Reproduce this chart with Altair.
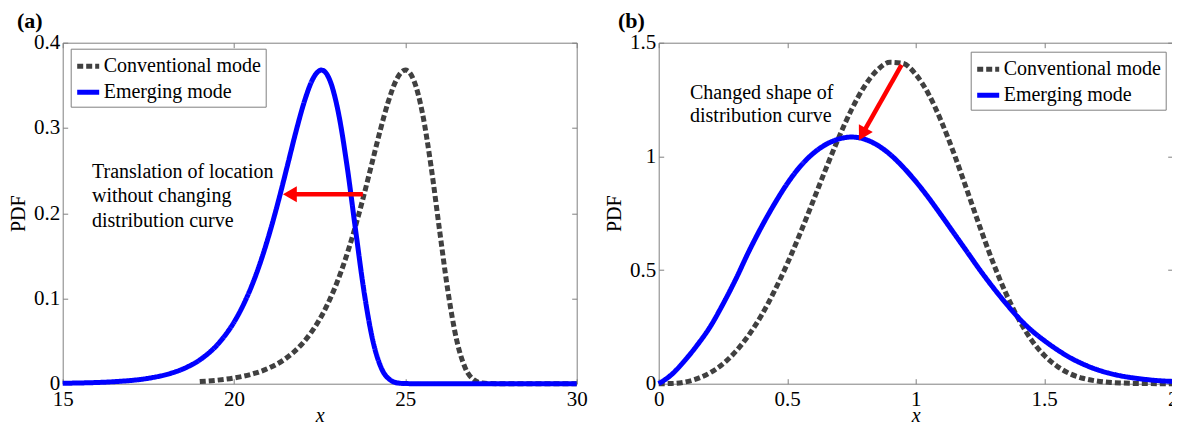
import altair as alt
import pandas as pd

FONT = "Liberation Serif"
W, H = 514, 341

MODES = ["Conventional mode", "Emerging mode"]
MODE_COLORS = ["#404040", "#0000ff"]
MODE_DASHES = [[6, 3], [1, 0]]

# ---------------- panel (a) ----------------
A_CONV_X = [19, 19.5, 20, 20.5, 21, 21.5, 22, 22.5, 22.75, 23, 23.25, 23.5, 23.75, 24, 24.25, 24.5,
            24.75, 24.875, 25, 25.125, 25.25, 25.5, 25.75, 26, 26.25, 26.5, 26.75, 27, 27.25, 27.5, 28, 30]
A_CONV_Y = [0.0025, 0.0041, 0.0067, 0.0110, 0.0180, 0.0293, 0.0474, 0.0756, 0.0949, 0.1182, 0.1461,
            0.1786, 0.2151, 0.2546, 0.2946, 0.3307, 0.3575, 0.3651, 0.3679, 0.3649, 0.3555, 0.3170,
            0.2549, 0.1794, 0.1064, 0.0507, 0.0182, 0.0046, 0.0007, 0.0001, 0, 0]
A_EMER_X = [15, 16.55, 17.55, 18.05, 18.55, 19.05, 19.55, 20.05, 20.3, 20.55, 20.8, 21.05, 21.3, 21.55,
            21.8, 22.05, 22.3, 22.425, 22.55, 22.675, 22.8, 23.05, 23.3, 23.55, 23.8, 24.05, 24.3, 24.55,
            24.8, 25.05, 26, 30]
A_EMER_Y = [0.0005, 0.0025, 0.0067, 0.0110, 0.0180, 0.0293, 0.0474, 0.0756, 0.0949, 0.1182, 0.1461,
            0.1786, 0.2151, 0.2546, 0.2946, 0.3307, 0.3575, 0.3651, 0.3679, 0.3649, 0.3555, 0.3170,
            0.2549, 0.1794, 0.1064, 0.0507, 0.0182, 0.0046, 0.0007, 0.0001, 0, 0]
A_XTICKS = [15, 20, 25, 30]
A_YTICKS = [0, 0.1, 0.2, 0.3, 0.4]
A_ARROW_FROM = [23.76, 0.2223]
A_ARROW_TO = [21.63, 0.2223]
A_NOTE = "Translation of location\nwithout changing\ndistribution curve"

# ---------------- panel (b) ----------------
B_CONV_X = [0, 0.05, 0.1, 0.15, 0.2, 0.25, 0.3, 0.35, 0.4, 0.45, 0.5, 0.55, 0.6, 0.65, 0.7, 0.75, 0.8,
            0.85, 0.9, 0.95, 1.0, 1.05, 1.1, 1.15, 1.2, 1.25, 1.3, 1.35, 1.4, 1.45, 1.5, 1.55, 1.6,
            1.65, 1.7, 1.75, 1.8, 1.9, 2.0]
B_CONV_Y = [0, 0.001, 0.007, 0.022, 0.048, 0.087, 0.142, 0.213, 0.301, 0.407, 0.527, 0.660, 0.801,
            0.944, 1.081, 1.205, 1.307, 1.379, 1.414, 1.409, 1.361, 1.274, 1.153, 1.009, 0.850, 0.689,
            0.536, 0.400, 0.285, 0.193, 0.125, 0.077, 0.044, 0.024, 0.0125, 0.006, 0.003, 0.0005, 0]
B_EMER_X = [0, 0.05, 0.1, 0.15, 0.2, 0.25, 0.3, 0.35, 0.4, 0.45, 0.5, 0.55, 0.6, 0.65, 0.7, 0.75, 0.8,
            0.85, 0.9, 0.95, 1.0, 1.05, 1.1, 1.15, 1.2, 1.25, 1.3, 1.35, 1.4, 1.45, 1.5, 1.55, 1.6,
            1.65, 1.7, 1.75, 1.8, 1.85, 1.9, 1.95, 2.0]
B_EMER_Y = [0, 0.04, 0.10, 0.17, 0.25, 0.35, 0.46, 0.58, 0.69, 0.79, 0.88, 0.955, 1.012, 1.052, 1.076,
            1.085, 1.076, 1.050, 1.009, 0.954, 0.890, 0.818, 0.740, 0.660, 0.580, 0.500, 0.425, 0.355,
            0.290, 0.235, 0.190, 0.150, 0.115, 0.087, 0.064, 0.047, 0.034, 0.025, 0.018, 0.013, 0.010]
B_XTICKS = [0, 0.5, 1, 1.5, 2]
B_YTICKS = [0, 0.5, 1, 1.5]
B_ARROW_FROM = [0.945, 1.402]
B_ARROW_TO = [0.7926, 1.0978]
B_NOTE = "Changed shape of\ndistribution curve"


def make_df(cx, cy, ex, ey):
    rows = [{"x": a, "pdf": b, "mode": MODES[0]} for a, b in zip(cx, cy)]
    rows += [{"x": a, "pdf": b, "mode": MODES[1]} for a, b in zip(ex, ey)]
    return pd.DataFrame(rows)


def panel(df, xdom, ydom, xticks, yticks, afrom, ato, head_angle,
          note, note_x, note_y, note_lh, legend_x, legend_y, tag, tag_dx):
    xs = alt.Scale(domain=xdom, nice=False, zero=False)
    ys = alt.Scale(domain=ydom, nice=False, zero=False)
    legend = alt.Legend(title=None, orient="none", legendX=legend_x, legendY=legend_y,
                        symbolType="stroke", symbolStrokeWidth=5, symbolSize=484,
                        labelFont=FONT, labelFontSize=20, labelColor="black", labelOffset=2,
                        labelLimit=400, rowPadding=2, padding=4, strokeColor="#808080",
                        fillColor="white", cornerRadius=0)
    base = alt.Chart(df)
    lines = base.mark_line(strokeWidth=5, interpolate="monotone", strokeCap="butt").encode(
        x=alt.X("x:Q", scale=xs, axis=alt.Axis(
            orient="bottom", values=xticks, format="~g", ticks=False, labelPadding=21.5,
            labelBaseline="alphabetic", labelFlush=False, labelOverlap=False,
            title="x", titleFontStyle="italic", titleBaseline="alphabetic", titleY=38)),
        y=alt.Y("pdf:Q", scale=ys, axis=alt.Axis(
            orient="left", values=yticks, format="~g", ticks=False, labelPadding=3,
            labelFlush=False, labelOverlap=False,
            title="PDF", titleBaseline="alphabetic", titleX=-38)),
        color=alt.Color("mode:N", scale=alt.Scale(domain=MODES, range=MODE_COLORS), legend=legend),
        strokeDash=alt.StrokeDash("mode:N", scale=alt.Scale(domain=MODES, range=MODE_DASHES),
                                  legend=legend),
    )
    tick_ax = dict(labels=False, domain=False, ticks=True, tickSize=5, title=None, grid=False)
    t1 = base.mark_point(opacity=0).encode(
        x=alt.X("x:Q", scale=xs, axis=alt.Axis(orient="top", offset=-H, values=xticks, **tick_ax)),
        y=alt.Y("pdf:Q", scale=ys, axis=alt.Axis(orient="right", offset=-W, values=yticks, **tick_ax)),
    )
    t2 = base.mark_point(opacity=0).encode(
        x=alt.X("x:Q", scale=xs, axis=alt.Axis(orient="bottom", offset=-H, values=xticks, **tick_ax)),
        y=alt.Y("pdf:Q", scale=ys, axis=alt.Axis(orient="left", offset=-W, values=yticks, **tick_ax)),
    )
    adf = pd.DataFrame({"x": [afrom[0]], "y": [afrom[1]], "x2": [ato[0]], "y2": [ato[1]]})
    shaft = alt.Chart(adf).mark_rule(color="#ff0000", strokeWidth=4.5).encode(
        x=alt.X("x:Q", scale=xs, axis=None), y=alt.Y("y:Q", scale=ys, axis=None),
        x2="x2:Q", y2="y2:Q")
    head = alt.Chart(adf).mark_point(shape="triangle-up", filled=True, size=256, color="#ff0000",
                                     opacity=1, angle=head_angle).encode(
        x=alt.X("x2:Q", scale=xs, axis=None), y=alt.Y("y2:Q", scale=ys, axis=None))
    ndf = pd.DataFrame({"x": [note_x], "y": [note_y], "t": [note]})
    text = alt.Chart(ndf).mark_text(align="left", baseline="top", font=FONT, fontSize=20,
                                    lineHeight=note_lh, color="black", lineBreak="\n").encode(
        x=alt.X("x:Q", scale=xs, axis=None), y=alt.Y("y:Q", scale=ys, axis=None), text="t:N")
    return alt.layer(lines, t1, t2, shaft, head, text).resolve_axis(
        x="independent", y="independent").properties(
        width=W, height=H,
        title=alt.TitleParams(tag, anchor="start", frame="group", dx=tag_dx, offset=-18.5,
                              fontSize=22, fontWeight="bold", font=FONT, color="black",
                              baseline="alphabetic"))


pa = panel(make_df(A_CONV_X, A_CONV_Y, A_EMER_X, A_EMER_Y), [15, 30], [0, 0.4], A_XTICKS, A_YTICKS,
           A_ARROW_FROM, A_ARROW_TO, 270, A_NOTE, 15.855, 0.2603, 24.5, 8, 6, "(a)", -45.7)
pb = panel(make_df(B_CONV_X, B_CONV_Y, B_EMER_X, B_EMER_Y), [0, 2], [0, 1.5], B_XTICKS, B_YTICKS,
           B_ARROW_FROM, B_ARROW_TO, 209.65, B_NOTE, 0.1218, 1.3236, 23.5, 312, 9, "(b)", -40.7)

PAD_L, PAD_T = 54.7, 34.7
chart = alt.hconcat(pa, pb, spacing=82, bounds="flush").resolve_scale(
    color="independent", strokeDash="independent").properties(
    autosize=alt.AutoSizeParams(type="none"),
    padding={"left": PAD_L, "top": PAD_T, "right": 1164 - PAD_L, "bottom": 414 - PAD_T}).configure_view(
    stroke="#808080", strokeWidth=1).configure_axis(
    labelFont=FONT, labelFontSize=21, labelColor="black", titleFont=FONT, titleFontSize=20,
    titleColor="black", titleFontWeight="normal", tickColor="#808080", tickWidth=1,
    grid=False, domain=False)

chart.save("out.html", embed_options={"renderer": "svg", "actions": False})
